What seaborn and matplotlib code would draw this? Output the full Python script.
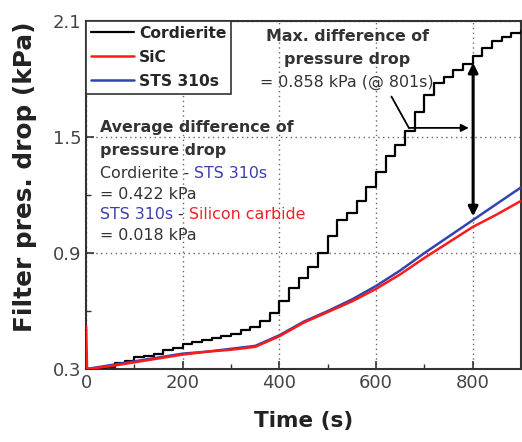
import numpy as np
import pandas as pd
import seaborn as sns
import matplotlib.pyplot as plt
from matplotlib.ticker import MultipleLocator

# ---- data ----
t_cord = [0, 20, 40, 60, 80, 100, 120, 140, 160, 180, 200, 220, 240, 260, 280, 300,
          320, 340, 360, 380, 400, 420, 440, 460, 480, 500, 520, 540, 560, 580, 600,
          620, 640, 660, 680, 700, 720, 740, 760, 780, 800, 820, 840, 860, 880, 900]
p_cord = [0.30, 0.30, 0.31, 0.33, 0.34, 0.36, 0.37, 0.38, 0.40, 0.41, 0.43, 0.44, 0.45,
          0.46, 0.47, 0.48, 0.50, 0.52, 0.55, 0.59, 0.65, 0.72, 0.77, 0.83, 0.90, 0.99,
          1.07, 1.11, 1.17, 1.24, 1.32, 1.40, 1.46, 1.53, 1.63, 1.72, 1.78, 1.81, 1.85,
          1.88, 1.92, 1.96, 2.00, 2.02, 2.04, 2.05]

t_sts = [0, 50, 100, 150, 200, 250, 300, 350, 400, 450, 500, 550, 600, 650, 700, 750,
         800, 850, 900]
p_sts = [0.30, 0.32, 0.34, 0.36, 0.38, 0.39, 0.405, 0.42, 0.475, 0.545, 0.60, 0.66,
         0.73, 0.81, 0.90, 0.985, 1.07, 1.155, 1.24]

t_sic = [0, 2, 50, 100, 150, 200, 250, 300, 350, 400, 450, 500, 550, 600, 650, 700,
         750, 800, 850, 900]
p_sic = [0.52, 0.30, 0.315, 0.335, 0.355, 0.375, 0.39, 0.40, 0.415, 0.47, 0.54, 0.595,
         0.65, 0.715, 0.79, 0.875, 0.955, 1.035, 1.10, 1.17]

series = ["Cordierite", "SiC", "STS 310s"]
colors = {"Cordierite": "#000000", "SiC": "#ff1a1a", "STS 310s": "#3344b0"}

df_cord = pd.DataFrame({"t": t_cord, "p": p_cord, "s": "Cordierite"})
df_sic = pd.DataFrame({"t": t_sic, "p": p_sic, "s": "SiC"})
df_sts = pd.DataFrame({"t": t_sts, "p": p_sts, "s": "STS 310s"})

sns.set_style("ticks")
plt.rcParams["font.family"] = ["DejaVu Sans"]

fig = plt.figure(figsize=(5.22, 4.42), dpi=100)
ax = fig.add_axes([0.165, 0.165, 0.833, 0.787])

sns.lineplot(data=df_cord, x="t", y="p", color=colors["Cordierite"], lw=1.6,
             drawstyle="steps-post", label="Cordierite", ax=ax, zorder=3)
sns.lineplot(data=df_sts, x="t", y="p", color=colors["STS 310s"], lw=1.8,
             label="STS 310s", ax=ax, zorder=3)
sns.lineplot(data=df_sic, x="t", y="p", color=colors["SiC"], lw=1.8,
             label="SiC", ax=ax, zorder=4)

ax.set_xlim(0, 900)
ax.set_ylim(0.3, 2.1)
ax.set_xticks([0, 200, 400, 600, 800])
ax.set_yticks([0.3, 0.9, 1.5, 2.1])
ax.xaxis.set_minor_locator(MultipleLocator(100))
ax.yaxis.set_minor_locator(MultipleLocator(0.3))
ax.tick_params(which="both", direction="in", top=False, right=False,
               labelsize=13, labelcolor="#444444", color="#333333")
ax.tick_params(which="major", length=6, width=1.2)
ax.tick_params(which="minor", length=3.5, width=1.0)
ax.grid(True, which="major", linestyle=(0, (1, 2.5)), color="#666666", lw=1.0)
for sp in ax.spines.values():
    sp.set_linewidth(1.5)
    sp.set_color("#333333")

ax.set_xlabel("Time (s)", fontsize=15.5, fontweight="bold", color="#222222", labelpad=14)
ax.set_ylabel("Filter pres. drop (kPa)", fontsize=17.8, fontweight="bold", color="#222222")
ax.yaxis.set_label_coords(-0.113, 0.552)

handles, labels = ax.get_legend_handles_labels()
order = [labels.index(s) for s in series]
leg = ax.legend([handles[i] for i in order], [labels[i] for i in order],
                loc="upper left", borderaxespad=0, frameon=True, fancybox=False,
                handlelength=2.8, handletextpad=0.3, labelspacing=0.58,
                borderpad=0.3, prop={"weight": "bold", "size": 11.2})
leg.get_frame().set_edgecolor("#333333")
leg.get_frame().set_linewidth(1.2)
leg.get_frame().set_alpha(1)

tc = "#333333"
fs = 11.4
ax.text(540, 2.02, "Max. difference of", ha="center", va="center",
        fontsize=fs, fontweight="bold", color=tc)
ax.text(540, 1.90, "pressure drop", ha="center", va="center",
        fontsize=fs, fontweight="bold", color=tc)
ax.text(540, 1.785, "= 0.858 kPa (@ 801s)", ha="center", va="center",
        fontsize=fs, color=tc)

ax.annotate("", xy=(801, 1.885), xytext=(801, 1.09),
            arrowprops=dict(arrowstyle="<|-|>", color="black", lw=2.2,
                            mutation_scale=14, shrinkA=0, shrinkB=0))
ax.plot([632, 668], [1.71, 1.548], color="black", lw=1.3)
ax.annotate("", xy=(792, 1.548), xytext=(668, 1.548),
            arrowprops=dict(arrowstyle="-|>", color="black", lw=1.3,
                            mutation_scale=11, shrinkA=0, shrinkB=0))

ax.text(29, 1.55, "Average difference of", ha="left", va="center",
        fontsize=fs, fontweight="bold", color=tc)
ax.text(29, 1.43, "pressure drop", ha="left", va="center",
        fontsize=fs, fontweight="bold", color=tc)
blue_t = "#3b3fae"
red_t = "#ee2222"
t1 = ax.text(29, 1.31, "Cordierite - ", ha="left", va="center", fontsize=fs, color=tc)
fig.canvas.draw()
ax.annotate("STS 310s", xycoords=t1, xy=(1, 0.5), va="center", ha="left",
            fontsize=fs, color=blue_t)
ax.text(29, 1.205, "= 0.422 kPa", ha="left", va="center", fontsize=fs, color=tc)
t2 = ax.text(29, 1.10, "STS 310s", ha="left", va="center", fontsize=fs, color=blue_t)
t3 = ax.annotate(" - ", xycoords=t2, xy=(1, 0.5), va="center", ha="left", fontsize=fs,
                 color=tc)
fig.canvas.draw()
ax.annotate("Silicon carbide", xycoords=t3, xy=(1, 0.5), va="center", ha="left",
            fontsize=fs, color=red_t)
ax.text(29, 0.99, "= 0.018 kPa", ha="left", va="center", fontsize=fs, color=tc)

fig.savefig("out.png", dpi=100)
